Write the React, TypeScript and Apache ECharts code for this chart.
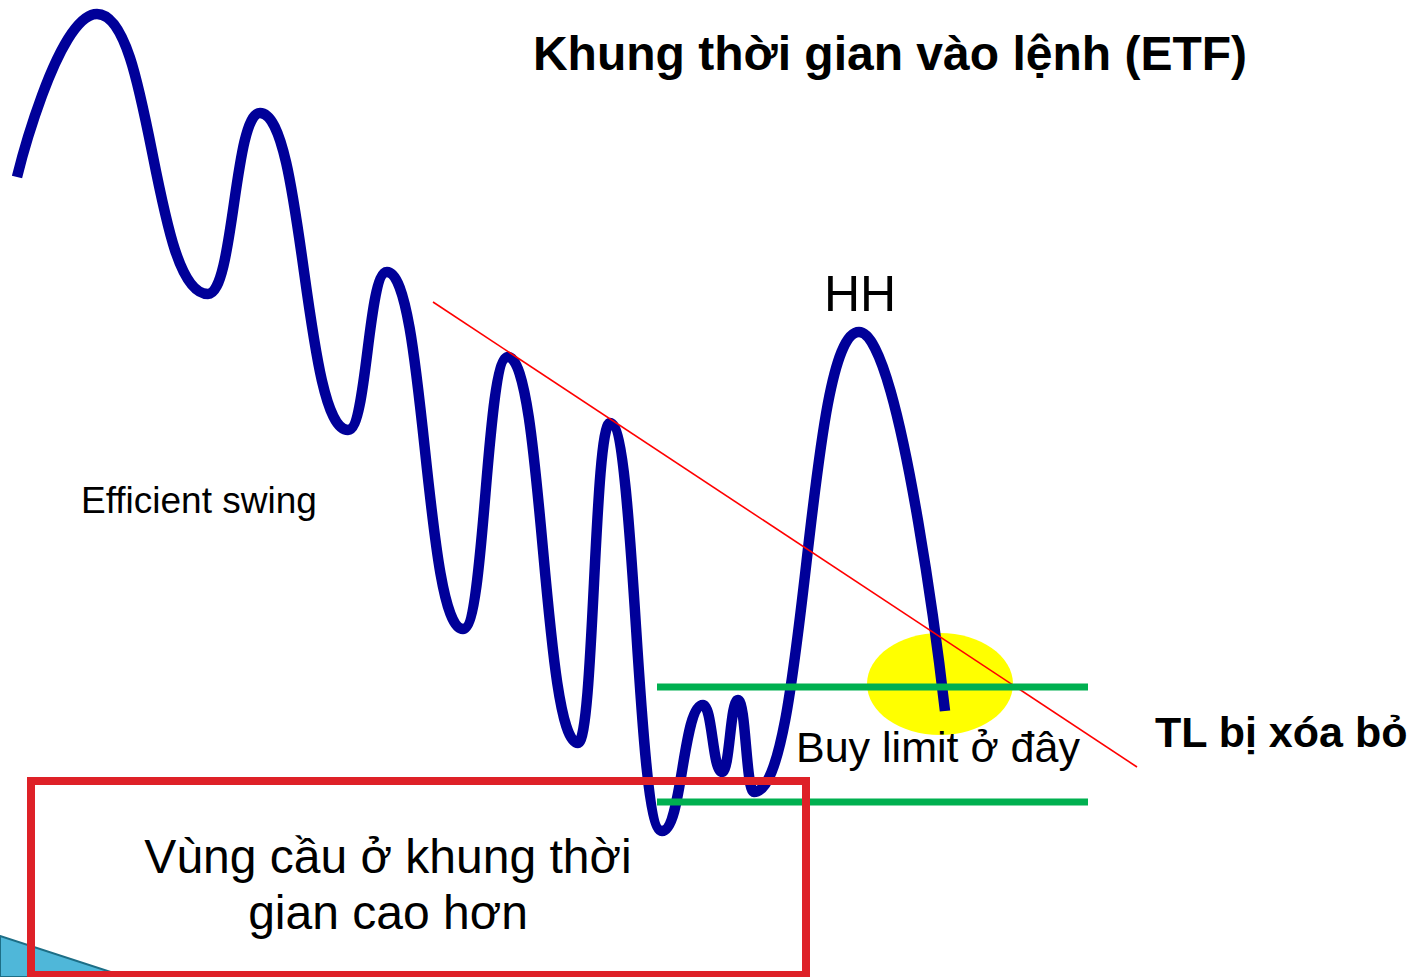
import React, { useEffect, useRef } from "react";
import * as echarts from "echarts";

// Price swing path (turning points), in chart units (x right, y down)
const swingX = [17, 97, 208, 260, 348, 387, 463, 508, 578, 610, 662, 703, 722, 738, 754, 859, 945];
const swingY = [177, 14, 294, 113, 430, 272, 629, 357, 743, 423, 831, 705, 772, 700, 792, 332, 711];

// Trend line (TL)
const trendX = [433, 1137];
const trendY = [302, 767];

// Buy-limit zone levels
const levelX = [657, 1088];
const levelY = [687, 802];

// Higher-timeframe demand zone box [x0, y0, x1, y1]
const zoneBox = [31, 781, 806, 975];

// Highlight ellipse [cx, cy, rx, ry]
const highlight = [940, 684, 73, 51];

// Corner decoration triangle
const triX = [0, 126, 0];
const triY = [936, 977, 977];

const FONT = "'Liberation Sans', Arial, Helvetica, sans-serif";

export default function App() {
  const ref = useRef<HTMLDivElement>(null);

  useEffect(() => {
    document.body.style.margin = "0";
    if (!ref.current) return;
    const chart = echarts.init(ref.current, undefined, { renderer: "svg" });

    const swingData = swingX.map((x, i) => [x, swingY[i]]);
    const trendData = trendX.map((x, i) => [x, trendY[i]]);

    const text = (
      t: string,
      x: number,
      y: number,
      size: number,
      bold: boolean,
      align: string
    ) => ({
      type: "text",
      z: 100,
      style: {
        text: t,
        x,
        y,
        font: `${bold ? "bold " : ""}${size}px ${FONT}`,
        fill: "#000000",
        align,
        textAlign: align,
        verticalAlign: "middle",
        textVerticalAlign: "middle",
      },
    });

    const option: any = {
      animation: false,
      backgroundColor: "#ffffff",
      grid: { left: 0, right: 0, top: 0, bottom: 0 },
      xAxis: { type: "value", min: 0, max: 1412, show: false },
      yAxis: { type: "value", min: 0, max: 977, inverse: true, show: false },
      series: [
        {
          type: "custom",
          z: 1,
          data: [[0, 0]],
          renderItem: (params: any, api: any) => {
            const pts = triX.map((x, i) => api.coord([x, triY[i]]));
            return {
              type: "polygon",
              shape: { points: pts },
              style: { fill: "#4fb7d9", stroke: "#1d6e86", lineWidth: 2 },
            };
          },
        },
        {
          type: "custom",
          z: 2,
          data: [highlight],
          renderItem: (params: any, api: any) => {
            const c = api.coord([api.value(0), api.value(1)]);
            const s = api.size([api.value(2), api.value(3)]);
            return {
              type: "ellipse",
              shape: { cx: c[0], cy: c[1], rx: s[0], ry: s[1] },
              style: { fill: "#ffff00" },
            };
          },
        },
        {
          type: "line",
          z: 3,
          data: swingData,
          showSymbol: false,
          symbol: "none",
          smooth: 0.5,
          smoothMonotone: "x",
          lineStyle: { color: "#000099", width: 10.5, cap: "butt", join: "round" },
          silent: true,
        },
        {
          type: "line",
          z: 4,
          data: trendData,
          showSymbol: false,
          symbol: "none",
          lineStyle: { color: "#ff0000", width: 1.6 },
          silent: true,
        },
        ...levelY.map((y) => ({
          type: "line",
          z: 5,
          data: levelX.map((x) => [x, y]),
          showSymbol: false,
          symbol: "none",
          lineStyle: { color: "#00b050", width: 7, cap: "butt" },
          silent: true,
        })),
        {
          type: "custom",
          z: 6,
          data: [zoneBox],
          renderItem: (params: any, api: any) => {
            const p0 = api.coord([api.value(0), api.value(1)]);
            const p1 = api.coord([api.value(2), api.value(3)]);
            return {
              type: "rect",
              shape: { x: p0[0], y: p0[1], width: p1[0] - p0[0], height: p1[1] - p0[1] },
              style: { fill: "none", stroke: "#de2128", lineWidth: 8 },
            };
          },
        },
      ],
      graphic: [
        text("Khung thời gian vào lệnh (ETF)", 890, 53, 48, true, "center"),
        text("HH", 860, 294, 50, false, "center"),
        text("Efficient swing", 81, 500, 37, false, "left"),
        text("Buy limit ở đây", 796, 747, 43, false, "left"),
        text("TL bị xóa bỏ", 1155, 732, 43, true, "left"),
        text("Vùng cầu ở khung thời", 388, 856, 48, false, "center"),
        text("gian cao hơn", 388, 912, 48, false, "center"),
      ],
    };

    chart.setOption(option);
    return () => chart.dispose();
  }, []);

  return <div ref={ref} style={{ width: 1412, height: 977 }} />;
}
